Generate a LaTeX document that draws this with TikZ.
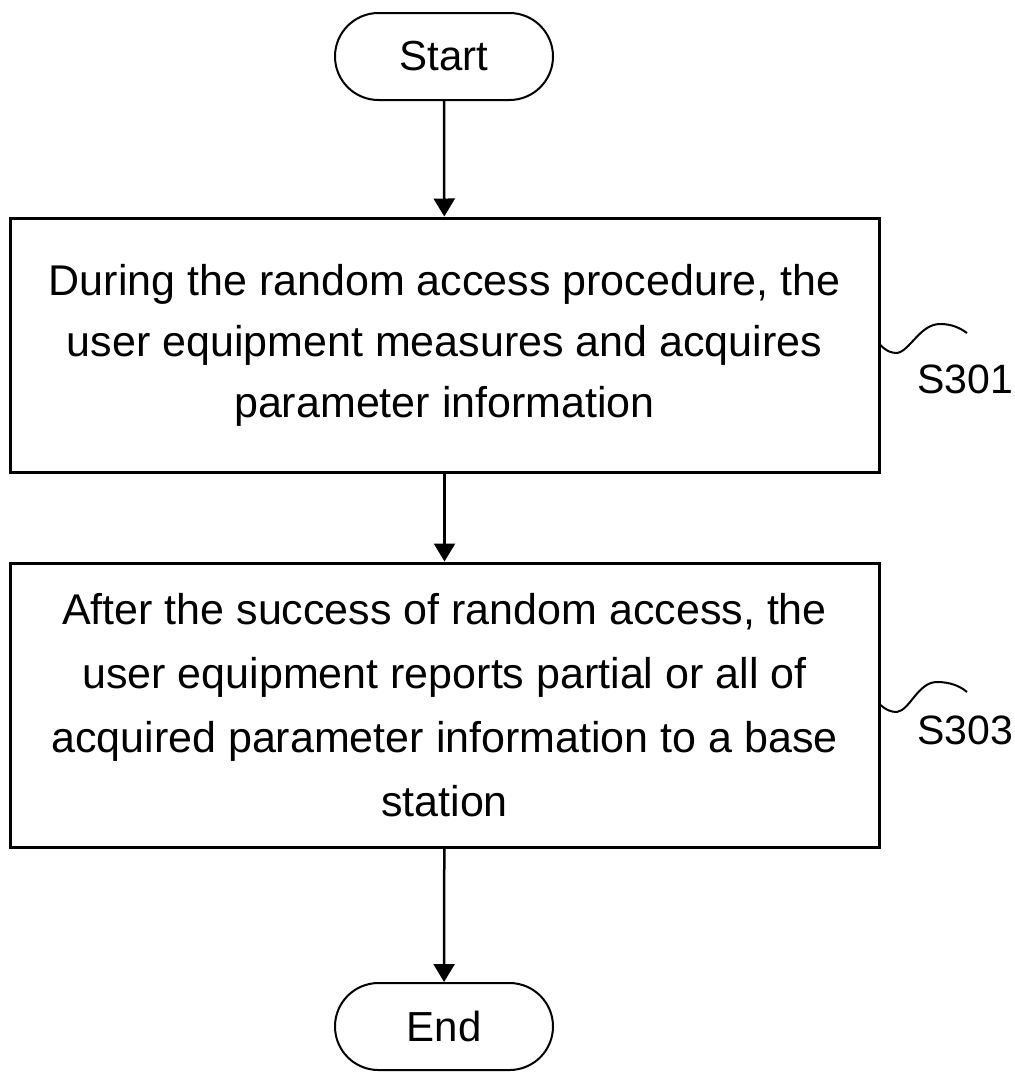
\documentclass[tikz,border=0pt]{standalone}
\usepackage{fontspec}
\setmainfont{Liberation Sans}
\usetikzlibrary{shapes.misc,arrows.meta}
\begin{document}
\begin{tikzpicture}[x=1pt,y=-1pt,
  term/.style={draw, line width=2pt, rounded rectangle, minimum width=218pt, minimum height=87pt, inner sep=0pt, font=\fontsize{42}{49}\selectfont},
  procbox/.style={draw, line width=3pt, minimum width=869pt, inner sep=0pt, align=center},
  arr/.style={line width=2.5pt, -{Triangle[width=21pt,length=18pt]}},
  squig/.style={line width=2pt},
  lab/.style={inner sep=0pt, font=\fontsize{41}{49}\selectfont}]
\useasboundingbox (0,0) rectangle (1015,1072);
\node[term] (start) at (444,56.5) {Start};
\node[procbox, minimum height=254pt, font=\fontsize{43}{61}\selectfont] (s1) at (444.5,345) {During the random access procedure, the\\user equipment measures and acquires\\parameter information};
\node[procbox, minimum height=284pt, font=\fontsize{43}{64}\selectfont] (s2) at (444.5,705) {After the success of random access, the\\user equipment reports partial or all of\\acquired parameter information to a base\\station};
\node[term] (end) at (444,1026.5) {End};
\draw[arr] (start) -- (s1);
\draw[arr] (s1) -- (s2);
\draw[arr] (s2) -- (end);
\coordinate (q1) at (967,333);
\coordinate (q2) at (967,692);
\draw[squig] (s1.east) .. controls (886,351) and (891,353) .. (897,353) .. controls (910,351) and (920,324) .. (940,324) .. controls (952,324) and (960,328) .. (q1);
\draw[squig] (s2.east) .. controls (886,710) and (891,712) .. (897,712) .. controls (910,710) and (918,682) .. (937,682) .. controls (950,682) and (960,686) .. (q2);
\node[lab] (l1) at (965,379) {S301};
\node[lab] (l2) at (965,730) {S303};
\end{tikzpicture}
\end{document}
